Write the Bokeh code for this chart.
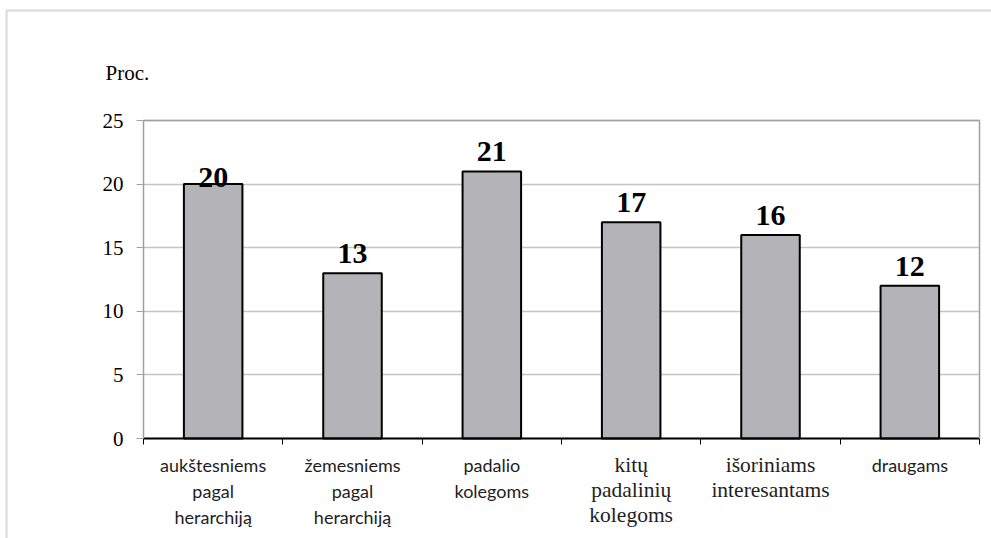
import numpy as np
from bokeh.plotting import figure
from bokeh.models import (ColumnDataSource, Range1d, FixedTicker, LabelSet, Label,
                          PolyAnnotation, LinearAxis, Grid, CDSView, IndexFilter)
from bokeh.core.properties import value
from bokeh.embed import file_html
from bokeh.resources import INLINE

categories = ["aukštesniems\npagal\nherarchiją", "žemesniems\npagal\nherarchiją",
              "padalio\nkolegoms", "kitų\npadalinių\nkolegoms",
              "išoriniams\ninteresantams", "draugams"]
values = [20, 13, 21, 17, 16, 12]
y_ticks = [0, 5, 10, 15, 20, 25]
y_max = 25

# the original set some category labels in a serif face, the rest in a sans face
serif_labels = [3, 4]
value_offsets = [-3, 10, 10, 10, 10, 10]

SERIF = "'Liberation Serif', 'Times New Roman', serif"
SANS = "Lato, 'Open Sans', sans-serif"

# page layout (pixels)
W, H = 991, 538
FL, FR, FT, FB = 143, 979, 120, 438   # plot area edges

n = len(categories)
xs = np.arange(n) + 0.5
sx = (FR - FL) / n
sy = (FB - FT) / y_max

src = ColumnDataSource(dict(x=xs, top=values, txt=[str(v) for v in values],
                            voff=value_offsets, cat=categories, zero=[0] * n))

p = figure(width=W, height=H, output_backend="svg", toolbar_location=None,
           x_range=Range1d(-FL / sx, n + (W - FR) / sx),
           y_range=Range1d(-(H - FB) / sy, y_max + FT / sy),
           x_axis_type=None, y_axis_type=None,
           min_border_left=0, min_border_right=0, min_border_top=0,
           min_border_bottom=0)
p.background_fill_color = "white"
p.border_fill_color = "white"
p.outline_line_color = None

# gridlines
ygrid = Grid(dimension=1, ticker=FixedTicker(ticks=y_ticks), cross_bounds=(0, n),
             grid_line_color="#C4C4C4", grid_line_width=1.5)
p.add_layout(ygrid)

p.vbar(x="x", top="top", width=0.42, bottom=0, source=src,
       fill_color="#B4B4B8", line_color="black", line_width=2)

# y axis
yaxis = LinearAxis(fixed_location=0, bounds=(0, y_max), ticker=FixedTicker(ticks=y_ticks),
                   axis_line_color="#A0A0A0", axis_line_width=1.5,
                   major_tick_line_color="#A0A0A0", major_tick_out=7, major_tick_in=0,
                   minor_tick_line_color=None, major_label_standoff=13,
                   major_label_text_font=SERIF,
                   major_label_text_font_size="21px", major_label_text_color="black")
p.add_layout(yaxis, "left")

# x axis (category boundaries)
xaxis = LinearAxis(fixed_location=0, bounds=(0, n), ticker=FixedTicker(ticks=list(range(n + 1))),
                   axis_line_color="black", axis_line_width=2,
                   major_tick_line_color="black", major_tick_out=6, major_tick_in=0,
                   minor_tick_line_color=None, major_label_text_color=None,
                   major_label_text_font_size="1px")
p.add_layout(xaxis, "below")

# plot-area frame: top and right edges
topaxis = LinearAxis(fixed_location=y_max, bounds=(0, n), ticker=FixedTicker(ticks=[]),
                     axis_line_color="#A0A0A0", axis_line_width=1.5,
                     major_tick_line_color=None, minor_tick_line_color=None,
                     major_label_text_color=None, major_label_text_font_size="1px")
p.add_layout(topaxis, "above")
rightaxis = LinearAxis(fixed_location=n, bounds=(0, y_max), ticker=FixedTicker(ticks=[]),
                       axis_line_color="#A0A0A0", axis_line_width=1.5,
                       major_tick_line_color=None, minor_tick_line_color=None,
                       major_label_text_color=None, major_label_text_font_size="1px")
p.add_layout(rightaxis, "right")

# value labels
p.add_layout(LabelSet(x="x", y="top", text="txt", y_offset="voff", source=src,
                      text_align="center", text_baseline="alphabetic",
                      text_font=value(SERIF), text_font_style="bold",
                      text_font_size="30px", text_color="black"))

# category labels
sans_idx = [i for i in range(n) if i not in serif_labels]
p.text(x="x", y="zero", text="cat", source=src, view=CDSView(filter=IndexFilter(sans_idx)),
       y_offset=15, text_align="center", text_baseline="top",
       text_font=value(SANS), text_font_size="18px",
       text_color="#1E1E1E", text_line_height=1.2)
p.text(x="x", y="zero", text="cat", source=src, view=CDSView(filter=IndexFilter(serif_labels)),
       y_offset=14, text_align="center", text_baseline="top",
       text_font=value(SERIF), text_font_size="21.5px",
       text_color="#1E1E1E", text_line_height=1.05)

# unit label
p.add_layout(Label(x=0, y=y_max, text="Proc.", x_offset=-38, y_offset=48,
                   text_font=SERIF, text_font_size="21px",
                   text_baseline="alphabetic", text_color="black"))

# outer chart border (left and top edges visible)
p.add_layout(PolyAnnotation(xs=[6, 1300, 1300, 6], ys=[H - 10, H - 10, -300, -300],
                            xs_units="screen", ys_units="screen",
                            fill_color=None, line_color="#959595", line_width=2.5))

open("out.html", "w").write(file_html(p, INLINE))
